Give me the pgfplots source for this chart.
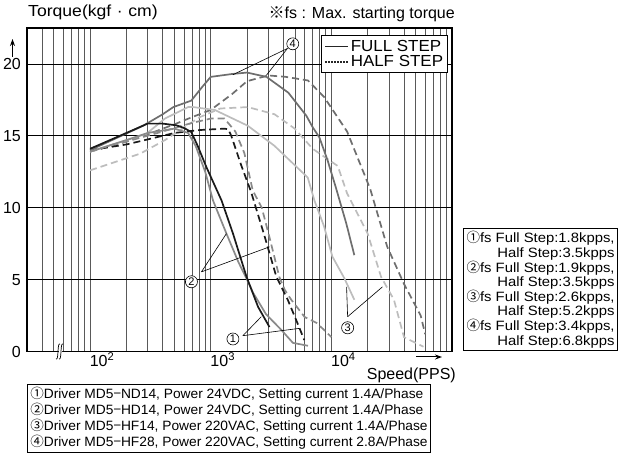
\documentclass[border=0pt]{standalone}
\usepackage{fontspec}
\setmainfont{Liberation Sans}
\newfontfamily\wideA{Liberation Sans}[FakeStretch=1.06]
\newfontfamily\wideB{Liberation Sans}[FakeStretch=1.1]
\newfontfamily\wideC{Liberation Sans}[FakeStretch=1.02]
\newfontfamily\cjk{Noto Sans CJK KR}
\usepackage{pgfplots}
\pgfplotsset{compat=1.18}
\usetikzlibrary{arrows.meta}
\definecolor{cA}{HTML}{1A1A1A}
\definecolor{cB}{HTML}{8A8A8A}
\definecolor{cC}{HTML}{BDBDBD}
\definecolor{cD}{HTML}{6E6E6E}
\newcommand\fA{\fontsize{16bp}{19bp}\selectfont}
\tikzset{circ/.style={circle, draw=black, line width=0.6bp, fill=white, inner sep=0.8bp, font=\fontsize{11bp}{11bp}\selectfont},
lead/.style={line width=0.6bp, black}}
\begin{document}
\begin{tikzpicture}
\useasboundingbox (0,0) rectangle (623bp,457bp);
\begin{axis}[
  at={(27bp,105.5bp)}, anchor=south west,
  scale only axis, width=425bp, height=323.5bp,
  xmode=log, xmin=30, xmax=100000, ymin=0, ymax=22.5,
  xtick={100,1000,10000}, xticklabels={10\textsuperscript{2},10\textsuperscript{3},10\textsuperscript{4}},
  minor xtick={40,50,60,70,80,90,200,300,400,500,600,700,800,900,2000,3000,4000,5000,6000,7000,8000,9000,20000,30000,40000,50000,60000,70000,80000,90000},
  ytick={0,5,10,15,20}, yticklabels={0,5,10,15,20},
  major tick length=0pt, minor tick length=0pt,
  grid=both,
  major x grid style={black!65, line width=0.8bp},
  minor x grid style={black!65, line width=0.8bp},
  major y grid style={black, line width=0.8bp},
  axis line style={black, line width=1.3bp},
  tick label style={font=\fA},
  xticklabel style={anchor=north, inner sep=0pt, yshift=-1bp, xshift=12bp},
  yticklabel style={anchor=east, inner sep=0pt, xshift=-6bp},
  legend style={at={(0.9906,0.978)}, anchor=north east, draw=black, line width=0.8bp, font=\fA\wideA, inner sep=2.5bp, row sep=-1bp, fill=white},
  legend cell align=left,
  legend image code/.code={\draw[#1] (0bp,0bp) -- (23bp,0bp);},
]
\addlegendimage{black!85, line width=1.4bp}
\addlegendentry{FULL STEP}
\addlegendimage{black!85, line width=1.4bp, dash pattern=on 1.5bp off 1.5bp}
\addlegendentry{HALF STEP}

% 3 half (light gray dashed)
\addplot[cC, line width=1.7bp, dash pattern=on 7bp off 4bp, forget plot] coordinates {
(100,12.6) (260,13.76) (417,14.7) (812,16.3) (1200,16.9) (2030,17.0) (3380,16.5) (4970,15.5) (7000,14.1) (11300,12.9) (13500,11.0) (20000,8.2) (25800,5.2) (33000,3.6) (40000,1.0) (58000,0.33)};
% 4 half (dark gray dashed)
\addplot[cD, line width=1.7bp, dash pattern=on 7bp off 4bp, forget plot] coordinates {
(100,13.9) (200,14.6) (300,15.1) (500,15.8) (700,16.3) (1000,16.8) (1500,17.9) (2000,18.8) (3000,19.2) (4200,19.1) (6400,18.85) (8700,17.7) (13500,15.3) (21000,11.3) (29000,7.3) (40000,4.7) (55000,2.5) (60000,1.2)};
% 2 half (mid gray dashed)
\addplot[cB, line width=1.7bp, dash pattern=on 7bp off 4bp, forget plot] coordinates {
(100,13.9) (200,14.6) (400,15.3) (700,15.9) (1000,16.2) (1300,16.2) (1600,15.3) (1900,13.8) (2230,11.2) (2650,10.0) (3100,7.8) (3700,5.2) (4100,4.3) (4650,3.6) (5400,2.9) (6000,2.4) (7500,2.0) (8700,1.5) (10000,1.0)};
% 1 half (black dashed)
\addplot[cA, line width=1.7bp, dash pattern=on 7bp off 4bp, forget plot] coordinates {
(100,14.0) (200,14.4) (300,14.75) (500,15.2) (800,15.4) (1300,15.5) (1400,15.45) (1480,15.0) (1790,12.95) (2160,11.1) (2800,8.0) (3500,5.2) (4350,3.6) (5400,1.7) (5960,0.8)};
% 3 full (light gray)
\addplot[cC, line width=1.7bp, forget plot] coordinates {
(100,13.9) (294,15.15) (417,16.2) (650,17.0) (716,17.0) (1080,16.8) (2030,15.7) (3380,14.3) (6370,12.1) (7240,10.5) (8700,8.7) (10200,6.6) (12800,5.1) (15500,3.6)};
% 4 full (dark gray)
\addplot[cD, line width=1.7bp, forget plot] coordinates {
(100,14.0) (275,15.7) (400,16.5) (490,17.0) (690,17.45) (850,18.4) (1000,19.1) (1500,19.3) (2000,19.4) (2900,19.1) (4400,18.0) (6200,16.4) (7000,15.6) (7950,14.9) (9300,13.3) (10900,11.4) (13300,8.9) (15500,6.7)};
% 2 full (mid gray)
\addplot[cB, line width=1.7bp, forget plot] coordinates {
(100,13.9) (200,14.7) (300,15.2) (500,15.5) (650,15.2) (750,14.3) (900,12.5) (1045,10.5) (1350,8.2) (1700,6.2) (2000,5.0) (2240,4.1) (2870,2.6) (3850,1.5) (4800,0.6) (6400,0.4)};
% 1 full (black)
\addplot[cA, line width=1.7bp, forget plot] coordinates {
(100,14.1) (200,15.2) (300,15.85) (400,15.85) (520,15.73) (600,15.55) (690,15.26) (780,14.3) (920,12.83) (1230,10.5) (1530,8.2) (1980,5.2) (2470,3.1) (3070,1.7)};

% annotations
\draw[lead] (axis cs:4328,21.08) -- (axis cs:1528,19.25);
\draw[lead] (axis cs:4328,21.08) -- (axis cs:2886,19.2);
\node[circ] at (axis cs:4786,21.4) {4};
\draw[lead] (axis cs:838,5.54) -- (axis cs:1349,8.2);
\draw[lead] (axis cs:838,5.54) -- (axis cs:3073,7.28);
\node[circ] at (axis cs:692,4.85) {2};
\draw[lead] (axis cs:1849,1.1) -- (axis cs:2624,2.42);
\draw[lead] (axis cs:1849,1.1) -- (axis cs:5445,1.61);
\node[circ] at (axis cs:1528,0.87) {1};
\draw[lead] (axis cs:13640,2.42) -- (axis cs:13370,4.5);
\draw[lead] (axis cs:13640,2.42) -- (axis cs:26550,4.5);
\node[circ] at (axis cs:13640,1.65) {3};
\end{axis}

% axis break symbol
\fill[white] (58bp,99bp) -- (61bp,99bp) -- (63bp,112bp) -- (60bp,112bp) -- cycle;
\draw[line width=0.7bp] (56bp,98bp) .. controls (59bp,96bp) and (57bp,115bp) .. (60bp,113bp);
\draw[line width=0.7bp] (59bp,98bp) .. controls (62bp,96bp) and (60bp,115bp) .. (63bp,113bp);

% arrows
\draw[line width=1bp, -{Stealth[length=7bp,width=5bp]}] (12.5bp,400bp) -- (12.5bp,418bp);
\draw[line width=1bp, -{Stealth[length=7bp,width=5bp]}] (416bp,100bp) -- (442bp,100bp);

% titles
\node[anchor=west, font=\fA\wideB, inner sep=0pt] at (28bp,445bp) {Torque(kgf\hspace{0.35em}·\hspace{0.35em}cm)};
\node[anchor=east, font=\fA, inner sep=0pt] at (455bp,443bp) {{\cjk ※}fs : Max. starting torque};
\node[anchor=east, font=\fA, inner sep=0pt] at (456bp,82bp) {Speed(PPS)};

% right box
\node[anchor=north east, draw=black, line width=0.8bp, align=right, inner sep=3bp,
  font=\fontsize{13.5bp}{14.6bp}\selectfont\wideB] at (618bp,229bp)
{{\cjk ①}fs Full Step:1.8kpps,\\Half Step:3.5kpps\\
 {\cjk ②}fs Full Step:1.9kpps,\\Half Step:3.5kpps\\
 {\cjk ③}fs Full Step:2.6kpps,\\Half Step:5.2kpps\\
 {\cjk ④}fs Full Step:3.4kpps,\\Half Step:6.8kpps};

% bottom box
\node[anchor=north west, draw=black, line width=0.8bp, align=left, inner sep=3bp,
  font=\fontsize{13.5bp}{16bp}\selectfont\wideC] at (27bp,73bp)
{{\cjk ①}Driver MD5{\cjk −}ND14, Power 24VDC, Setting current 1.4A/Phase\\
 {\cjk ②}Driver MD5{\cjk −}HD14, Power 24VDC, Setting current 1.4A/Phase\\
 {\cjk ③}Driver MD5{\cjk −}HF14, Power 220VAC, Setting current 1.4A/Phase\\
 {\cjk ④}Driver MD5{\cjk −}HF28, Power 220VAC, Setting current 2.8A/Phase};
\end{tikzpicture}
\end{document}
